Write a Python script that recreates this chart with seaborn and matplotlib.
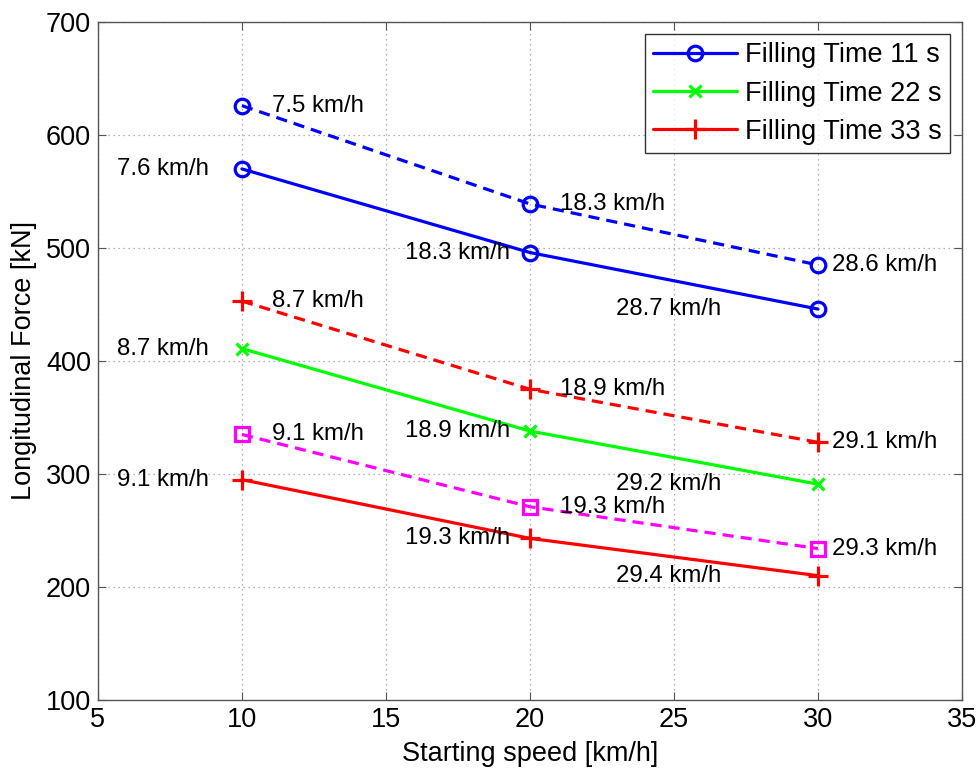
import matplotlib
matplotlib.use("Agg")
import matplotlib.pyplot as plt
import seaborn as sns
import pandas as pd

speeds = [10, 20, 30]

ft11_solid = [570, 496, 446]
ft11_dashed = [626, 539, 485]
ft22_solid = [411, 338, 291]
ft33_dashed_red = [453, 375, 328]
ft33_dashed_mag = [335, 271, 234]
ft33_solid = [295, 243, 210]

lbl11_solid = ["7.6 km/h", "18.3 km/h", "28.7 km/h"]
lbl11_dashed = ["7.5 km/h", "18.3 km/h", "28.6 km/h"]
lbl22_solid = ["8.7 km/h", "18.9 km/h", "29.2 km/h"]
lbl33_dashed_red = ["8.7 km/h", "18.9 km/h", "29.1 km/h"]
lbl33_dashed_mag = ["9.1 km/h", "19.3 km/h", "29.3 km/h"]
lbl33_solid = ["9.1 km/h", "19.3 km/h", "29.4 km/h"]

legend_labels = ["Filling Time 11 s", "Filling Time 22 s", "Filling Time 33 s"]

sns.set_theme(style="white")
plt.rcParams['font.family'] = ['Liberation Sans', 'DejaVu Sans']
plt.rcParams['text.color'] = 'black'
plt.rcParams['axes.labelcolor'] = 'black'

fig = plt.figure(figsize=(9.79, 7.76), dpi=100)
ax = fig.add_axes([0.100, 0.098, 0.8826, 0.8736])

BLUE = "#0000ff"
GREEN = "#00ff00"
RED = "#ff0000"
MAG = "#ff00ff"
LW = 2.3

def draw(vals, color, marker, ls, label=None, mfc="none", ms=10.5):
    df = pd.DataFrame({"x": speeds, "y": vals})
    sns.lineplot(data=df, x="x", y="y", ax=ax, color=color, linewidth=LW,
                 linestyle=ls, marker=marker, markersize=ms,
                 markerfacecolor=mfc, markeredgecolor=color, markeredgewidth=2.3,
                 label=label, legend=False)

DASH = (0, (3.5, 2.2))
draw(ft11_dashed, BLUE, "o", DASH)
draw(ft11_solid, BLUE, "o", "-", legend_labels[0])
draw(ft33_dashed_red, RED, "+", DASH, ms=14)
draw(ft22_solid, GREEN, "x", "-", legend_labels[1], ms=9)
draw(ft33_dashed_mag, MAG, "s", DASH, ms=10)
draw(ft33_solid, RED, "+", "-", legend_labels[2], ms=14)

fs_ann = 17.3
def annotate(vals, labels, dashed):
    for i, (x, y, t) in enumerate(zip(speeds, vals, labels)):
        if dashed:
            dx = 1.04 if i < 2 else 0.5
            ax.text(x + dx, y, t, fontsize=fs_ann, ha="left", va="center", color="black")
        else:
            if i < 2:
                ax.text(x - 4.35, y, t, fontsize=fs_ann, ha="left", va="center", color="black")
            else:
                ax.text(x - 7.0, y, t, fontsize=fs_ann, ha="left", va="center", color="black")

annotate(ft11_dashed, lbl11_dashed, True)
annotate(ft11_solid, lbl11_solid, False)
annotate(ft33_dashed_red, lbl33_dashed_red, True)
annotate(ft22_solid, lbl22_solid, False)
annotate(ft33_dashed_mag, lbl33_dashed_mag, True)
annotate(ft33_solid, lbl33_solid, False)

ax.set_xlim(5, 35)
ax.set_ylim(100, 700)
ax.set_xticks([5, 10, 15, 20, 25, 30, 35])
ax.set_yticks([100, 200, 300, 400, 500, 600, 700])
ax.grid(True, color="#999999", linestyle=(0, (1, 3)), linewidth=0.9)
for s in ax.spines.values():
    s.set_visible(True)
    s.set_color("#555555")
    s.set_linewidth(1.0)
ax.tick_params(direction="in", length=6, width=0.8, colors="#555555",
               labelcolor="black", labelsize=19.5, top=True, right=True,
               bottom=True, left=True, pad=5)
ax.set_xlabel("Starting speed [km/h]", fontsize=19.5, labelpad=6, color="black")
ax.set_ylabel("Longitudinal Force [kN]", fontsize=19.5, labelpad=6, color="black")

leg = ax.legend(loc="upper right", fontsize=19.5, handlelength=3.1,
                frameon=True, fancybox=False, borderpad=0.3,
                labelspacing=0.45, handletextpad=0.3, borderaxespad=0.45)
leg.get_frame().set_edgecolor("black")
leg.get_frame().set_linewidth(1.0)
for t in leg.get_texts():
    t.set_color("black")

fig.savefig("out.png", dpi=100)
